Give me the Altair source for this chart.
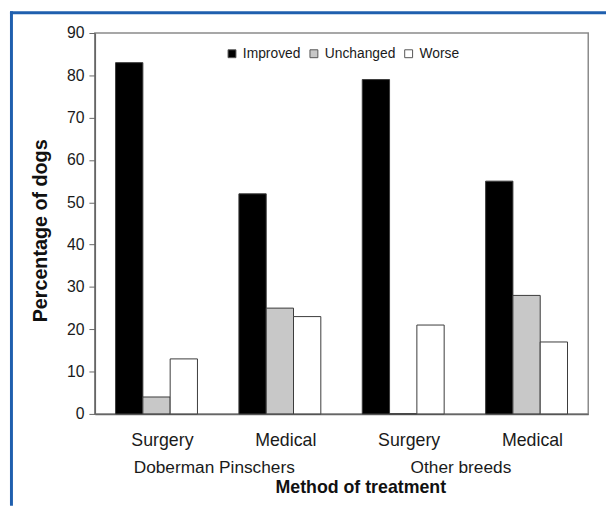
import altair as alt
import pandas as pd

breeds = ["Doberman Pinschers", "Doberman Pinschers", "Other breeds", "Other breeds"]
treatments = ["Surgery", "Medical", "Surgery", "Medical"]
series = ["Improved", "Unchanged", "Worse"]
improved = [83, 52, 79, 55]
unchanged = [4, 25, 0, 28]
worse = [13, 23, 21, 17]
colors = ["#000000", "#c8c8c8", "#ffffff"]
breed_order = ["Doberman Pinschers", "Other breeds"]
y_ticks = [0, 10, 20, 30, 40, 50, 60, 70, 80, 90]

rows = []
for i in range(len(breeds)):
    g = f"{breeds[i]}|{treatments[i]}"
    for s, vals in zip(series, [improved, unchanged, worse]):
        rows.append({"group": g, "breed": breeds[i], "treatment": treatments[i],
                     "series": s, "value": vals[i]})
df = pd.DataFrame(rows)
group_order = [f"{b}|{t}" for b, t in zip(breeds, treatments)]
FONT = "Liberation Sans"

bars = alt.Chart(df).mark_bar(stroke="#3a3a3a", strokeWidth=1).encode(
    x=alt.X("group:N", sort=group_order,
            scale=alt.Scale(paddingInner=0.336, paddingOuter=0.168),
            axis=alt.Axis(title=None, labelExpr="split(datum.label, '|')[1]", labelAngle=0,
                          ticks=False, tickSize=0, labelPadding=18, labelFontSize=18,
                          labelOffset=6, orient="bottom")),
    xOffset=alt.XOffset("series:N", sort=series,
                        scale=alt.Scale(paddingInner=0, paddingOuter=0)),
    y=alt.Y("value:Q", scale=alt.Scale(domain=[0, 90], nice=False),
            axis=alt.Axis(values=y_ticks, title="Percentage of dogs", tickSize=6,
                          labelPadding=5, labelFontSize=16, titleFontSize=20,
                          titleFontWeight="bold", titlePadding=16, titleY=200)),
    color=alt.Color("series:N", sort=series,
                    scale=alt.Scale(domain=series, range=colors),
                    legend=alt.Legend(title=None, orient="none", legendX=132, legendY=14,
                                      direction="horizontal", symbolType="square",
                                      symbolSize=64, symbolStrokeColor="#555555",
                                      symbolStrokeWidth=1, labelFontSize=14,
                                      columnPadding=6, labelOffset=4, padding=0)),
)

breed_df = pd.DataFrame({"breed": breed_order})
breed_axis = alt.Chart(breed_df).mark_bar(opacity=0).encode(
    x=alt.X("breed:N", sort=breed_order,
            scale=alt.Scale(paddingInner=0, paddingOuter=0),
            axis=alt.Axis(orient="bottom", title="Method of treatment", labelAngle=0,
                          domain=False, ticks=False, tickSize=0, labelPadding=0,
                          offset=45, labelFontSize=17.5, labelOffset=-4,
                          titleFontSize=18, titleFontWeight="bold", titlePadding=3,
                          titleX=269)),
)

one = pd.DataFrame({"k": [0]})
frame_left = alt.Chart(one).mark_rule(color="#1f5fae", strokeWidth=3).encode(
    x=alt.value(-84.5), y=alt.value(-22), y2=alt.value(479))
frame_top = alt.Chart(one).mark_rule(color="#1f5fae", strokeWidth=3).encode(
    x=alt.value(-86), x2=alt.value(520), y=alt.value(-20.5))

chart = alt.layer(bars, breed_axis, frame_left, frame_top).resolve_scale(
    x="independent"
).properties(
    width=500, height=386,
    autosize=alt.AutoSizeParams(type="none"),
    padding={"left": 88, "top": 22, "right": 18, "bottom": 93},
    background="white",
).configure_view(
    stroke="#8a8a8a", strokeWidth=1.5
).configure_axis(
    domainColor="#666666", domainWidth=1.5, tickColor="#666666",
    labelColor="#1a1a1a", titleColor="#111111",
    labelFont=FONT, titleFont=FONT, grid=False
).configure_legend(
    labelFont=FONT, labelColor="#1a1a1a"
)

chart.save("out.html", embed_options={"renderer": "svg", "actions": False})
